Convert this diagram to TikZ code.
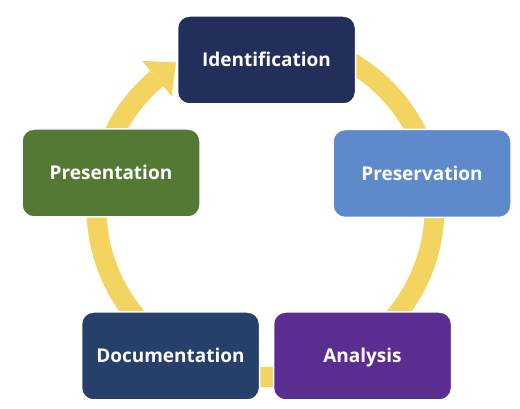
\documentclass[tikz,border=0pt]{standalone}
\usepackage{fontspec}
\setmainfont{Open Sans}
\usetikzlibrary{calc}
\definecolor{ringc}{HTML}{F3D461}
\definecolor{idc}{HTML}{222F5B}
\definecolor{prc}{HTML}{5E8ACB}
\definecolor{anc}{HTML}{5C2D91}
\definecolor{doc}{HTML}{263F6B}
\definecolor{pgc}{HTML}{537935}
\tikzset{
  stage/.style={draw=white, line width=1.5pt, rounded corners=12pt, minimum width=178pt, minimum height=88pt, inner sep=0pt, text=white, text height=14pt, text depth=0pt, font=\bfseries\fontsize{19}{22}\selectfont},
  ring/.style={draw=ringc, line width=20pt}
}
\begin{document}
\begin{tikzpicture}[x=1pt,y=1pt]
\useasboundingbox (0,0) rectangle (520,409);
\coordinate (C) at (265.5,201);
% ring
\draw[ring] ($(C)+(100:169)$) arc[start angle=100, end angle=-230, radius=169];
\coordinate (B) at ($(C)+(130:169)$);
\fill[ringc] ($(C)+(130:146)$) -- ($(C)+(130:192)$) -- ($(B)+(40:25)$) -- cycle;
% boxes
\node[stage, fill=idc] (ident) at (266.5,349) {Identification};
\node[stage, fill=prc] (pres) at (422,235.5) {Preservation};
\node[stage, fill=anc] (anal) at (362.5,53) {Analysis};
\node[stage, fill=doc] (docu) at (170.5,53) {Documentation};
\node[stage, fill=pgc] (pg) at (111,236) {Presentation};
\end{tikzpicture}
\end{document}
